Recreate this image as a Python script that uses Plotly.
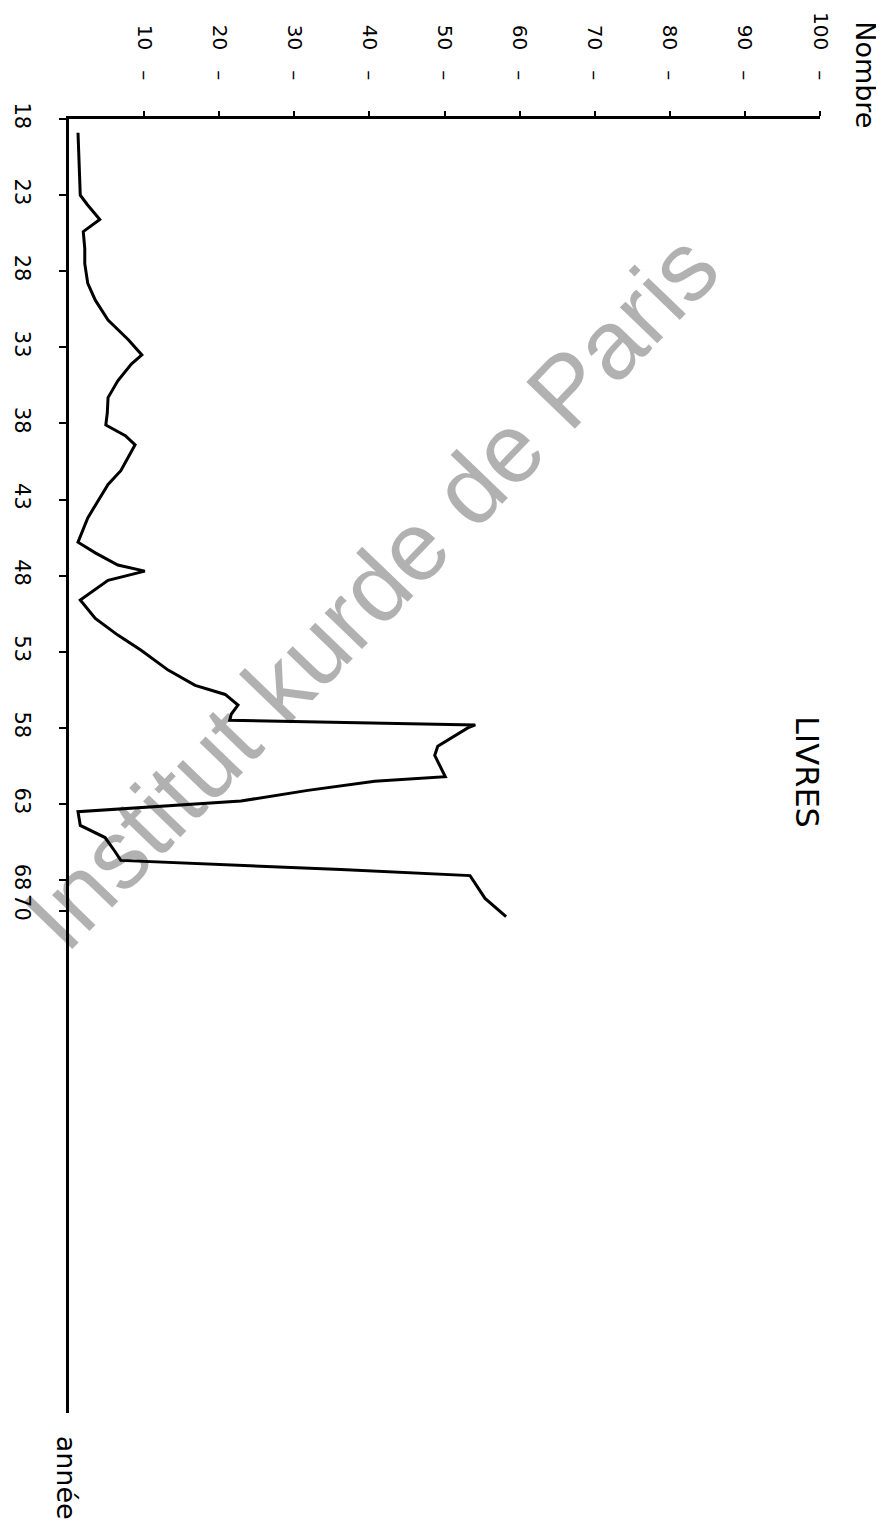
import plotly.graph_objects as go

# Data read from the (rotated) chart: year along the vertical axis, count along the horizontal axis
annees = [18.9, 20.5, 23.0, 23.6, 24.6, 25.4, 26.5, 27.5, 28.8, 29.9, 31.2, 32.5, 33.5, 34.1,
          35.2, 36.3, 37.3, 38.1, 38.8, 39.4, 40.2, 41.1, 42.0, 43.1, 44.2, 45.8, 46.5, 47.3,
          47.7, 48.3, 49.6, 50.8, 51.9, 52.9, 54.2, 55.2, 55.8, 56.5, 57.1, 57.5, 57.8, 58.0,
          59.2, 59.8, 61.2, 61.5, 62.1, 62.8, 63.5, 64.4, 65.2, 66.1, 66.7, 67.3, 67.7, 69.2, 70.4]
livres = [1.2, 1.3, 1.5, 2.4, 4.1, 1.9, 2.1, 2.1, 2.5, 3.5, 5.2, 7.9, 9.7, 8.3,
          6.5, 5.2, 5.1, 4.9, 7.5, 8.8, 7.9, 6.9, 5.2, 3.9, 2.5, 1.2, 3.5, 6.5,
          10.1, 5.2, 1.5, 3.5, 6.5, 9.6, 13.2, 16.8, 20.8, 22.5, 21.6, 21.4, 54.1, 53.1,
          49.1, 48.7, 50.1, 40.7, 31.8, 22.9, 1.2, 1.5, 4.8, 6.1, 6.9, 36.2, 53.4, 55.4, 58.2]

nombre_ticks = [10, 20, 30, 40, 50, 60, 70, 80, 90, 100]
nombre_labels = [f"{v}\u2003\u2013" for v in nombre_ticks]
annee_ticks = [18, 23, 28, 33, 38, 43, 48, 53, 58, 63, 68, 70]
annee_labels = [str(v) for v in annee_ticks]

FONT = "DejaVu Sans"

fig = go.Figure()
fig.add_trace(go.Scatter(x=livres, y=annees, mode="lines",
                         line=dict(color="black", width=3), showlegend=False,
                         hoverinfo="skip"))

fig.update_layout(
    width=884, height=1525,
    margin=dict(l=61, r=72, t=111, b=120),
    paper_bgcolor="white", plot_bgcolor="white",
    font=dict(family=FONT, color="black", size=19),
    xaxis=dict(range=[0, 100], side="top", showgrid=False, zeroline=False,
               automargin=False,
               showline=True, linecolor="black", linewidth=2.5,
               ticks="outside", ticklen=5, tickwidth=2, tickcolor="black",
               tickvals=nombre_ticks, ticktext=nombre_labels, tickangle=90,
               ticklabelstandoff=24, tickfont=dict(size=20, family=FONT)),
    yaxis=dict(range=[103, 18], showgrid=False, zeroline=False,
               automargin=False,
               showline=True, linecolor="black", linewidth=2.5,
               ticks="outside", ticklen=7, tickwidth=2, tickcolor="black",
               tickvals=annee_ticks, ticktext=annee_labels, tickangle=90,
               ticklabelstandoff=19, tickfont=dict(size=21, family=FONT)),
    annotations=[
        dict(text="Institut kurde de Paris", xref="paper", yref="paper",
             x=0.402, y=0.635, xanchor="center", yanchor="middle",
             showarrow=False, textangle=-46, opacity=0.3,
             font=dict(family="Liberation Sans", size=98, color="black")),
        dict(text="LIVRES", xref="paper", yref="paper", x=0.982, y=0.495,
             xanchor="center", yanchor="middle",
             showarrow=False, textangle=90, font=dict(family=FONT, size=32)),
        dict(text="Nombre", xref="paper", yref="paper", x=1.061, y=1.034,
             xanchor="center", yanchor="middle",
             showarrow=False, textangle=90, font=dict(family=FONT, size=27)),
        dict(text="année", xref="paper", yref="paper", x=-0.004, y=-0.05,
             xanchor="center", yanchor="middle",
             showarrow=False, textangle=90, font=dict(family=FONT, size=27)),
    ],
)

fig.write_html("out.html")
